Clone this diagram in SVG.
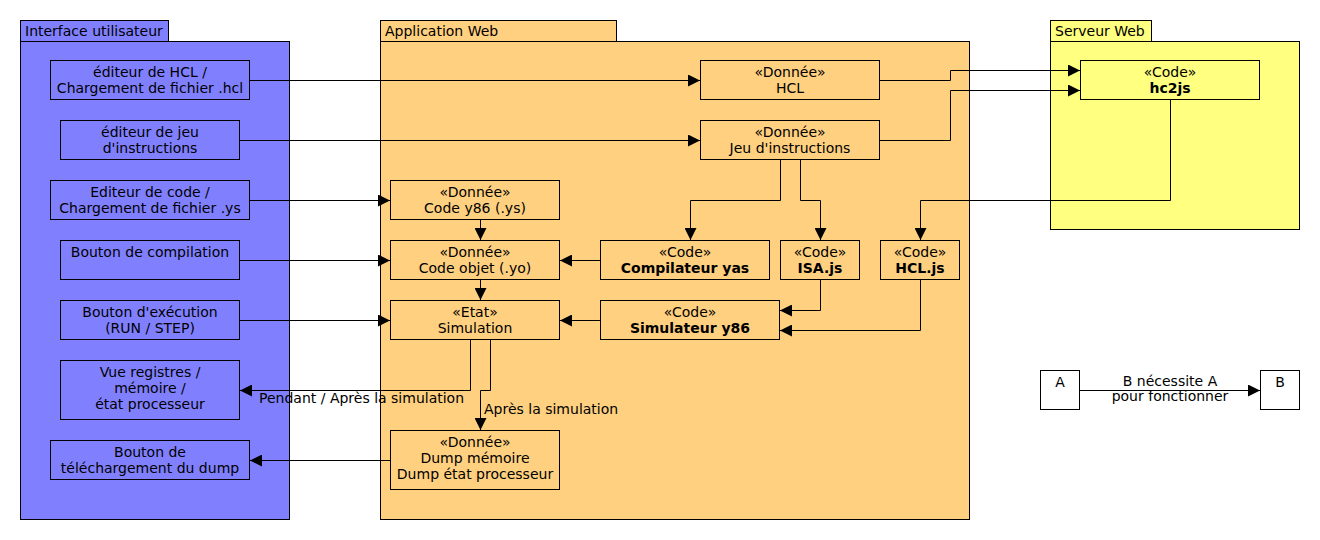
<svg xmlns="http://www.w3.org/2000/svg" width="1320" height="540" viewBox="0 0 1320 540">
<style>
.pkg{stroke:#000;stroke-width:1}
.ui{fill:#8080ff}
.app{fill:#ffd080}
.srv{fill:#ffff80}
.box{stroke:#000;stroke-width:1}
.wh{fill:#fff}
text{font-family:"DejaVu Sans","Liberation Sans",sans-serif;font-size:14px;fill:#000}
.c{text-anchor:middle}
.b{font-weight:bold}
.con{fill:none;stroke:#000;stroke-width:1;marker-end:url(#ah)}
</style>
<defs>
<marker id="ah" markerUnits="userSpaceOnUse" markerWidth="12" markerHeight="12" refX="12" refY="6" orient="auto">
<path d="M0,0 L12,6 L0,12 z" fill="#000"/>
</marker>
</defs>
<rect width="1320" height="540" fill="#fff"/>

<g id="pkg-ui">
<rect class="pkg ui" x="20.5" y="20.5" width="148" height="21"/>
<rect class="pkg ui" x="20.5" y="41.5" width="269" height="478"/>
<text x="25" y="36">Interface utilisateur</text>
</g>
<g id="pkg-app">
<rect class="pkg app" x="380.5" y="20.5" width="236" height="21"/>
<rect class="pkg app" x="380.5" y="41.5" width="589" height="478"/>
<text x="385" y="36">Application Web</text>
</g>
<g id="pkg-srv">
<rect class="pkg srv" x="1050.5" y="20.5" width="101" height="21"/>
<rect class="pkg srv" x="1050.5" y="41.5" width="249" height="188"/>
<text x="1055" y="36">Serveur Web</text>
</g>

<g id="ui-hcl">
<rect class="box ui" x="50.5" y="60.5" width="199" height="39"/>
<text class="c" x="150" y="77">éditeur de HCL /</text>
<text class="c" x="150" y="93">Chargement de fichier .hcl</text>
</g>
<g id="ui-jeu">
<rect class="box ui" x="60.5" y="120.5" width="179" height="39"/>
<text class="c" x="150" y="137">éditeur de jeu</text>
<text class="c" x="150" y="153">d'instructions</text>
</g>
<g id="ui-code">
<rect class="box ui" x="50.5" y="180.5" width="199" height="39"/>
<text class="c" x="150" y="197">Editeur de code /</text>
<text class="c" x="150" y="213">Chargement de fichier .ys</text>
</g>
<g id="ui-compil">
<rect class="box ui" x="60.5" y="240.5" width="179" height="39"/>
<text class="c" x="150" y="257">Bouton de compilation</text>
</g>
<g id="ui-exec">
<rect class="box ui" x="60.5" y="300.5" width="179" height="39"/>
<text class="c" x="150" y="317">Bouton d'exécution</text>
<text class="c" x="150" y="333">(RUN / STEP)</text>
</g>
<g id="ui-vue">
<rect class="box ui" x="60.5" y="360.5" width="179" height="59"/>
<text class="c" x="150" y="377">Vue registres /</text>
<text class="c" x="150" y="393">mémoire /</text>
<text class="c" x="150" y="409">état processeur</text>
</g>
<g id="ui-dl">
<rect class="box ui" x="50.5" y="440.5" width="199" height="39"/>
<text class="c" x="150" y="457">Bouton de</text>
<text class="c" x="150" y="473">téléchargement du dump</text>
</g>

<g id="d-hcl">
<rect class="box app" x="700.5" y="60.5" width="179" height="39"/>
<text class="c" x="790" y="77">«Donnée»</text>
<text class="c" x="790" y="93">HCL</text>
</g>
<g id="d-jeu">
<rect class="box app" x="700.5" y="120.5" width="179" height="39"/>
<text class="c" x="790" y="137">«Donnée»</text>
<text class="c" x="790" y="153">Jeu d'instructions</text>
</g>
<g id="d-y86">
<rect class="box app" x="390.5" y="180.5" width="169" height="39"/>
<text class="c" x="475" y="197">«Donnée»</text>
<text class="c" x="475" y="213">Code y86 (.ys)</text>
</g>
<g id="d-obj">
<rect class="box app" x="390.5" y="240.5" width="169" height="39"/>
<text class="c" x="475" y="257">«Donnée»</text>
<text class="c" x="475" y="273">Code objet (.yo)</text>
</g>
<g id="c-yas">
<rect class="box app" x="600.5" y="240.5" width="169" height="39"/>
<text class="c" x="685" y="257">«Code»</text>
<text class="c b" x="685" y="273">Compilateur yas</text>
</g>
<g id="c-isa">
<rect class="box app" x="780.5" y="240.5" width="79" height="39"/>
<text class="c" x="820" y="257">«Code»</text>
<text class="c b" x="820" y="273">ISA.js</text>
</g>
<g id="c-hcljs">
<rect class="box app" x="880.5" y="240.5" width="79" height="39"/>
<text class="c" x="920" y="257">«Code»</text>
<text class="c b" x="920" y="273">HCL.js</text>
</g>
<g id="e-sim">
<rect class="box app" x="390.5" y="300.5" width="169" height="39"/>
<text class="c" x="475" y="317">«Etat»</text>
<text class="c" x="475" y="333">Simulation</text>
</g>
<g id="c-sim">
<rect class="box app" x="600.5" y="300.5" width="179" height="39"/>
<text class="c" x="690" y="317">«Code»</text>
<text class="c b" x="690" y="333">Simulateur y86</text>
</g>
<g id="d-dump">
<rect class="box app" x="390.5" y="430.5" width="169" height="59"/>
<text class="c" x="475" y="447">«Donnée»</text>
<text class="c" x="475" y="463">Dump mémoire</text>
<text class="c" x="475" y="479">Dump état processeur</text>
</g>

<g id="c-hc2js">
<rect class="box srv" x="1080.5" y="60.5" width="179" height="39"/>
<text class="c" x="1170" y="77">«Code»</text>
<text class="c b" x="1170" y="93">hc2js</text>
</g>

<g id="legend-a">
<rect class="box wh" x="1040.5" y="370.5" width="39" height="39"/>
<text class="c" x="1060" y="387">A</text>
</g>
<g id="legend-b">
<rect class="box wh" x="1260.5" y="370.5" width="39" height="39"/>
<text class="c" x="1280" y="387">B</text>
</g>

<g id="connectors">
<path class="con" d="M250,80.5 H700"/>
<path class="con" d="M240,140.5 H700"/>
<path class="con" d="M250,200.5 H390"/>
<path class="con" d="M240,260.5 H390"/>
<path class="con" d="M240,320.5 H390"/>
<path class="con" d="M470.5,340 V390.5 H240"/>
<path class="con" d="M490.5,340 V390.5 H480.5 V430"/>
<path class="con" d="M390,460.5 H250"/>
<path class="con" d="M480.5,220 V240"/>
<path class="con" d="M480.5,280 V300"/>
<path class="con" d="M600,260.5 H560"/>
<path class="con" d="M600,320.5 H560"/>
<path class="con" d="M780.5,160 V200.5 H690.5 V240"/>
<path class="con" d="M800.5,160 V200.5 H820.5 V240"/>
<path class="con" d="M820.5,280 V310.5 H780"/>
<path class="con" d="M920.5,280 V330.5 H780"/>
<path class="con" d="M880,80.5 H950.5 V70.5 H1080"/>
<path class="con" d="M880,140.5 H950.5 V90.5 H1080"/>
<path class="con" d="M1170.5,100 V200.5 H920.5 V240"/>
<path class="con" d="M1080,390.5 H1260"/>
<text x="259" y="403">Pendant / Après la simulation</text>
<text x="484" y="414">Après la simulation</text>
<text class="c" x="1170" y="386">B nécessite A</text>
<text class="c" x="1170" y="401">pour fonctionner</text>
</g>
</svg>
